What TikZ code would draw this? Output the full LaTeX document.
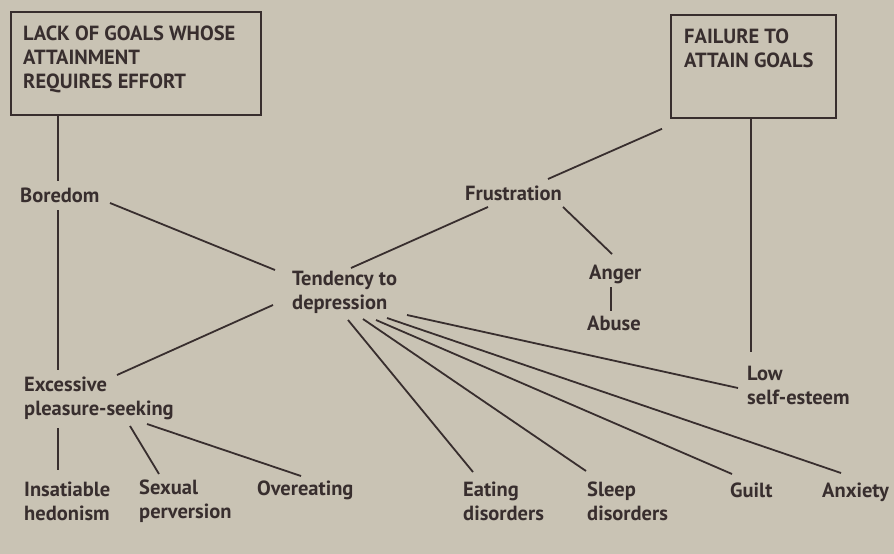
\documentclass[tikz,border=0pt]{standalone}
\usepackage{fontspec}
\setmainfont{PT Sans}
\definecolor{paper}{RGB}{201,195,180}
\definecolor{ink}{RGB}{56,46,46}
\tikzset{
  lbl/.style={anchor=west, inner sep=0pt, align=left, text=ink, font=\bfseries\fontsize{20.5}{24}\selectfont},
  goalbox/.style={draw=ink, line width=1.8pt, anchor=north west, inner sep=0pt},
  link/.style={draw=ink, line width=1.8pt}
}
\begin{document}
\begin{tikzpicture}[x=1pt,y=-1pt]
\fill[paper] (0,0) rectangle (894,554);
\useasboundingbox (0,0) rectangle (894,554);
% boxes
\node[goalbox, minimum width=250pt, minimum height=103pt] (lackbox) at (10,11) {};
\node[lbl] (lack) at ([shift={(13,48)}]lackbox.north west) {LACK OF GOALS WHOSE\\ATTAINMENT\\REQUIRES EFFORT};
\node[goalbox, minimum width=165pt, minimum height=103pt] (failbox) at (670,14) {};
\node[lbl] (fail) at ([shift={(14,34.5)}]failbox.north west) {FAILURE TO\\ATTAIN GOALS};
% text nodes
\node[lbl] (boredom) at (20,195) {Boredom};
\node[lbl] (frust) at (465,193) {Frustration};
\node[lbl] (tend) at (292,292) {Tendency to\\depression};
\node[lbl] (anger) at (589,274) {Anger};
\node[lbl] (abuse) at (587,323) {Abuse};
\node[lbl] (low) at (747,385) {Low\\self-esteem};
\node[lbl] (excess) at (24,398) {Excessive\\pleasure-seeking};
\node[lbl] (insat) at (24,501) {Insatiable\\hedonism};
\node[lbl] (sexual) at (139,501) {Sexual\\perversion};
\node[lbl] (over) at (257,490) {Overeating};
\node[lbl] (eating) at (463,501.5) {Eating\\disorders};
\node[lbl] (sleep) at (587,501.5) {Sleep\\disorders};
\node[lbl] (guilt) at (730,490) {Guilt};
\node[lbl] (anxiety) at (822,492) {Anxiety};
% connectors
\draw[link] ([shift={(48,0)}]lackbox.south west) -- ([shift={(38,-14)}]boredom.west);
\draw[link] ([shift={(38,15)}]boredom.west) -- ([shift={(34,-28)}]excess.west);
\draw[link] ([shift={(90,8)}]boredom.west) -- ([shift={(-17,-22)}]tend.west);
\draw[link] ([shift={(93,-23)}]excess.west) -- ([shift={(-19,13)}]tend.west);
\draw[link] ([shift={(-8,10)}]failbox.south west) -- ([shift={(83,-14)}]frust.west);
\draw[link] ([shift={(23,14)}]frust.west) -- ([shift={(59,-24)}]tend.west);
\draw[link] ([shift={(98,14)}]frust.west) -- ([shift={(23,-20)}]anger.west);
\draw[link] ([shift={(22,13)}]anger.west) -- ([shift={(24,-12)}]abuse.west);
\draw[link] ([shift={(81,0)}]failbox.south west) -- ([shift={(4,-33)}]low.west);
\draw[link] ([shift={(115,23)}]tend.west) -- ([shift={(-9,3)}]low.west);
\draw[link] ([shift={(56,28)}]tend.west) -- ([shift={(10,-29.5)}]eating.west);
\draw[link] ([shift={(71,27)}]tend.west) -- ([shift={(-1,-30.5)}]sleep.west);
\draw[link] ([shift={(84,28)}]tend.west) -- ([shift={(2,-16)}]guilt.west);
\draw[link] ([shift={(95,26)}]tend.west) -- ([shift={(19,-19)}]anxiety.west);
\draw[link] ([shift={(34,30)}]excess.west) -- ([shift={(34,-31)}]insat.west);
\draw[link] ([shift={(106,28)}]excess.west) -- ([shift={(20,-27)}]sexual.west);
\draw[link] ([shift={(123,26)}]excess.west) -- ([shift={(44,-14)}]over.west);
\end{tikzpicture}
\end{document}
